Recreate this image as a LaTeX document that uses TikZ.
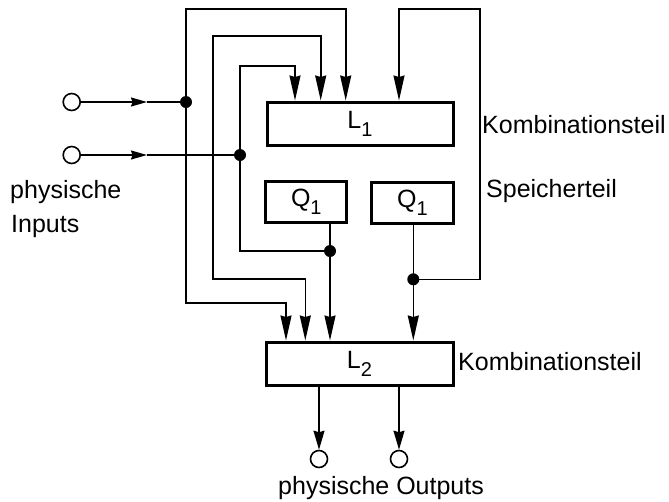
\documentclass[tikz,border=0pt]{standalone}
\usepackage{fontspec}
\setmainfont{Liberation Sans}
\usetikzlibrary{arrows.meta}
\newcommand\mysub[1]{\raisebox{-0.32em}{\fontsize{20}{20}\selectfont #1}}
\begin{document}
\begin{tikzpicture}[x=1pt,y=-1pt,
  every node/.style={font=\fontsize{25}{28}\selectfont},
  wire/.style={line width=1.6pt},
  box/.style={draw,line width=3pt,inner sep=0pt},
  arr/.style={-{Stealth[length=25pt,width=11pt,inset=1.5pt]}},
  inarr/.style={-{Stealth[length=16pt,width=9pt,inset=1.5pt]}},
  outarr/.style={-{Stealth[length=19pt,width=11pt,inset=1.5pt]}},
  term/.style={circle,draw,line width=1.6pt,minimum size=17pt,inner sep=0pt},
  jdot/.style={circle,fill,minimum size=12pt,inner sep=0pt},
  lbl/.style={inner sep=0pt,anchor=base west},
]
\useasboundingbox (0,0) rectangle (669,501);

% boxes
\node[box,minimum width=186pt,minimum height=43pt] (L1) at (360,123.5) {L\mysub{1}};
\node[box,minimum width=80.7pt,minimum height=40.6pt] (QA) at (306.3,202) {Q\mysub{1}};
\node[box,minimum width=81.6pt,minimum height=40.6pt] (QB) at (412.5,203) {Q\mysub{1}};
\node[box,minimum width=187pt,minimum height=43pt] (L2) at (359.5,363.5) {L\mysub{2}};

% terminals
\node[term] (in1) at (71.7,102) {};
\node[term] (in2) at (71.7,155) {};
\node[term] (out1) at (319,459) {};
\node[term] (out2) at (399,459) {};

% junction points
\coordinate (d1) at (186,102);
\coordinate (d2) at (240,155);
\coordinate (d3) at (330,251);
\coordinate (d4) at (413.3,279.3);
\coordinate (a1) at (147,102);
\coordinate (a2) at (147,155);
\coordinate (m2) at (213,160);

\coordinate (x1) at (345.7,0);
\coordinate (x2) at (320.7,0);
\coordinate (x3) at (295,0);
\coordinate (x4) at (399,0);
\coordinate (y1) at (286,0);
\coordinate (y2) at (305.3,0);

% inputs
\draw[wire,inarr] (in1) -- (a1);
\draw[wire] (a1) -- (d1);
\draw[wire,inarr] (in2) -- (a2);
\draw[wire] (a2) -- (d2);

% feedback lines into L1 and L2
\draw[wire,arr] (d1) -- (186,9) -| (x1 |- L1.north);
\draw[wire,arr] (d1) -- (186,302.7) -| (y1 |- L2.north);
\draw[wire,arr] (m2) -- (213,36) -| (x2 |- L1.north);
\draw[wire,arr] (m2) -- (213,279) -| (y2 |- L2.north);
\draw[wire,arr] (d2) -- (240,66) -| (x3 |- L1.north);
\draw[wire] (d2) -- (240,251) -- (d3);

% memory outputs
\draw[wire] (QA.south -| d3) -- (d3);
\draw[wire,arr] (d3) -- (d3 |- L2.north);
\draw[wire] (QB.south -| d4) -- (d4);
\draw[wire,arr] (d4) -- (d4 |- L2.north);
\draw[wire,arr] (d4) -- (480,279.3) -- (480,9) -| (x4 |- L1.north);

% outputs
\draw[wire,outarr] (L2.south -| out1) -- (out1);
\draw[wire,outarr] (L2.south -| out2) -- (out2);

% dots
\node[jdot] (j1) at (d1) {};
\node[jdot] (j2) at (d2) {};
\node[jdot] (j3) at (d3) {};
\node[jdot] (j4) at (d4) {};

% labels
\node[lbl] (k1) at (482,133) {Kombinationsteil};
\node[lbl] (sp) at (486,197) {Speicherteil};
\node[lbl] (k2) at (458,370) {Kombinationsteil};
\node[lbl] (phin) at (10,198) {physische};
\node[lbl] (inp) at (11,232) {Inputs};
\node[lbl] (phout) at (278,494) {physische Outputs};
\end{tikzpicture}
\end{document}
